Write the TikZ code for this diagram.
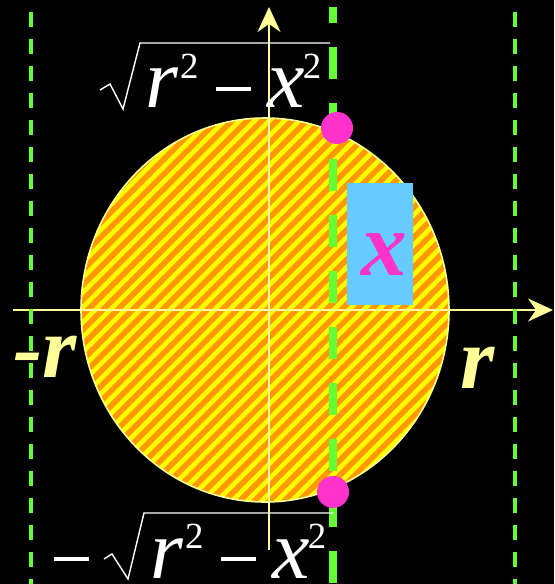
\documentclass[tikz,border=0pt]{standalone}
\usepackage{fontspec}
\setmainfont{Liberation Serif}
\usetikzlibrary{arrows.meta,patterns.meta}
\definecolor{axisyellow}{HTML}{FFFF99}
\definecolor{discorange}{HTML}{FF9900}
\definecolor{stripeyellow}{HTML}{FFFF00}
\definecolor{guidegreen}{HTML}{66FF33}
\definecolor{dotpink}{HTML}{FF33CC}
\definecolor{boxblue}{HTML}{66CCFF}
\newcommand{\sups}[1]{\raisebox{17pt}{\fontsize{21}{21}\selectfont #1}}
\newcommand{\minusbar}{\rule[9.5pt]{20pt}{2.2pt}}
\newcommand{\rootbody}{\textit{r}\kern1pt\sups{2}\kern10pt\minusbar\kern9pt\textit{x}\kern-1pt\sups{2}}
\begin{document}
\begin{tikzpicture}[x=0.02cm,y=-0.02cm,
  axis/.style={draw=axisyellow,line width=1.1pt,-{Stealth[length=0.5cm,width=0.46cm,inset=0.16cm]}},
  guide/.style={draw=guidegreen,line width=2.2pt,dash pattern=on 0.3cm off 0.24cm},
  chord/.style={draw=guidegreen,line width=4pt,dash pattern=on 0.64cm off 0.48cm,dash phase=0.32cm},
  dot/.style={circle,fill=dotpink,minimum size=0.64cm,inner sep=0pt},
  radical/.style={draw=white,line width=0.8pt,line join=miter},
  endlbl/.style={text=axisyellow,inner sep=0pt,font=\fontsize{50}{52}\selectfont\bfseries\itshape},
  eq/.style={text=white,inner sep=0pt,text depth=0pt,anchor=base west,font=\fontsize{48}{50}\selectfont}]
\fill[black] (0,0) rectangle (554,584);
\useasboundingbox (0,0) rectangle (554,584);
% disc with stripes
\fill[discorange] (265,310) ellipse[x radius=184,y radius=192];
\fill[pattern={Lines[angle=45,distance=6pt,line width=2.6pt]},pattern color=stripeyellow] (265,310) ellipse[x radius=184,y radius=192];
\draw[axisyellow,line width=0.9pt] (265,310) ellipse[x radius=184,y radius=192];
% axes
\coordinate (xstart) at (13,310);
\coordinate (xend) at (553,310);
\coordinate (ystart) at (269,550);
\coordinate (yend) at (269,7);
\draw[axis] (xstart) -- (xend);
\draw[axis] (ystart) -- (yend);
% guide lines
\coordinate (lefttop) at (31,12);
\coordinate (leftbot) at (31,584);
\coordinate (righttop) at (515,12);
\coordinate (rightbot) at (515,584);
\coordinate (chordtop) at (333,7);
\coordinate (chordbot) at (333,584);
\draw[guide] (lefttop) -- (leftbot);
\draw[guide] (righttop) -- (rightbot);
\draw[chord] (chordtop) -- (chordbot);
% points and strip
\node[dot] (ptop) at (337,128) {};
\node[dot] (pbot) at (333,492) {};
\node[fill=boxblue,minimum width=1.32cm,minimum height=2.44cm,inner sep=0pt] (strip) at (380,244) {};
\node[text=dotpink,inner sep=0pt,font=\fontsize{52}{54}\selectfont\bfseries\itshape] (xlbl) at (384,255) {x};
% labels
\node[endlbl] (rneg) at (45,357) {-r};
\node[endlbl] (rpos) at (478,368) {r};
\node[eq] (ytop) at (145,108) {\rootbody};
\draw[radical] (100,90) -- (110,84) -- (123,109) -- (140,43) -- (330,43);
\node[eq] (ysign) at (54,578) {\minusbar};
\node[eq] (ybot) at (150,578) {\rootbody};
\draw[radical] (104,559) -- (112,554) -- (128,579) -- (144,513) -- (333,513);
\end{tikzpicture}
\end{document}
